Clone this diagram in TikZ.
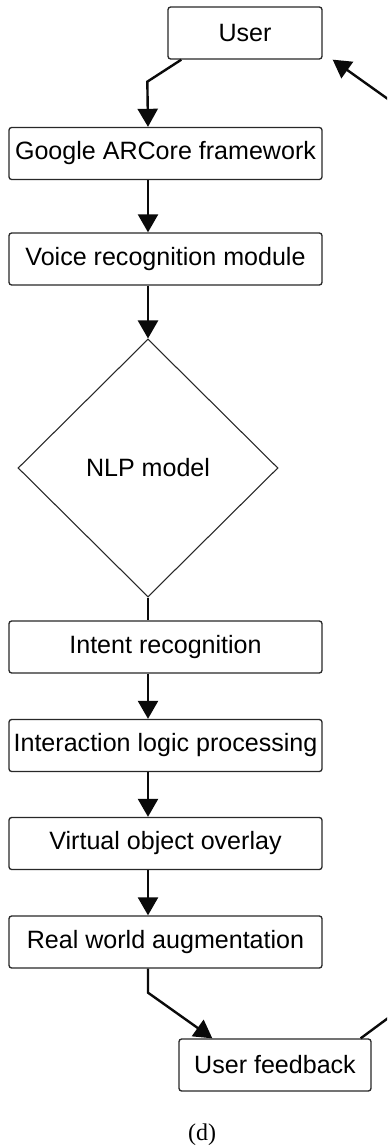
\documentclass[tikz,border=0pt]{standalone}
\usepackage{fontspec}
\setmainfont{Liberation Serif}
\newfontfamily\boxfont{Liberation Sans}
\usetikzlibrary{arrows.meta,shapes.geometric,positioning,calc}
\definecolor{boxline}{RGB}{40,40,40}
\definecolor{flowblack}{RGB}{10,10,10}
\tikzset{
  stagebox/.style={draw=boxline,line width=1pt,rounded corners=2pt,fill=white,
    minimum width=234.75pt,minimum height=39pt,inner sep=0pt,
    font=\boxfont\fontsize{18.8}{22}\selectfont},
  flowarr/.style={-{Triangle[width=15pt,length=13.5pt]},line width=1.8pt,color=flowblack},
  flowline/.style={line width=1.8pt,color=flowblack},
}
\begin{document}
\begin{tikzpicture}[x=0.75pt,y=-0.75pt]
\useasboundingbox (0,0) rectangle (387,1148);
\clip (0,0) rectangle (387,1148);
\fill[white] (0,0) rectangle (387,1148);
\node[stagebox,minimum width=115.5pt](user)at(245,33){User};
\node[stagebox](arcore)at(165.5,153.5){Google ARCore framework};
\node[stagebox](voice)at(165.5,259){Voice recognition module};
\node[diamond,draw=boxline,line width=0.8pt,minimum width=195pt,minimum height=193.5pt,
  inner sep=0pt,font=\boxfont\fontsize{18.8}{22}\selectfont](nlp)at(148,468){NLP model};
\node[stagebox](intent)at(165.5,647){Intent recognition};
\node[stagebox](logic)at(165.5,745.5){Interaction logic processing};
\node[stagebox](overlay)at(165.5,843.5){Virtual object overlay};
\node[stagebox](augment)at(165.5,942){Real world augmentation};
\node[stagebox,minimum width=144pt](feedback)at(275,1065){User feedback};
\node[font=\fontsize{18}{21}\selectfont](caption)at(202,1135){(d)};
\draw[flowarr]([xshift=10.5pt]user.south west)--++(-34,22)--(arcore.north -| nlp.north);
\draw[flowarr](arcore.south -| nlp.north)--(voice.north -| nlp.north);
\draw[flowarr](voice.south -| nlp.north)--(nlp.north);
\draw[flowline](nlp.south)--(intent.north -| nlp.south);
\foreach \a/\b in {intent/logic,logic/overlay,overlay/augment}
  \draw[flowarr](\a.south -| nlp.north)--(\b.north -| nlp.north);
\draw[flowarr](augment.south -| nlp.north)--++(0,24)--([xshift=25.5pt]feedback.north west);
\coordinate (loopbot) at (430,987);
\coordinate (looptop) at (430,129);
\draw[flowarr]([xshift=-8.25pt]feedback.north east)--(loopbot)--(looptop)
  --([xshift=7.5pt]user.south east);
\end{tikzpicture}
\end{document}
